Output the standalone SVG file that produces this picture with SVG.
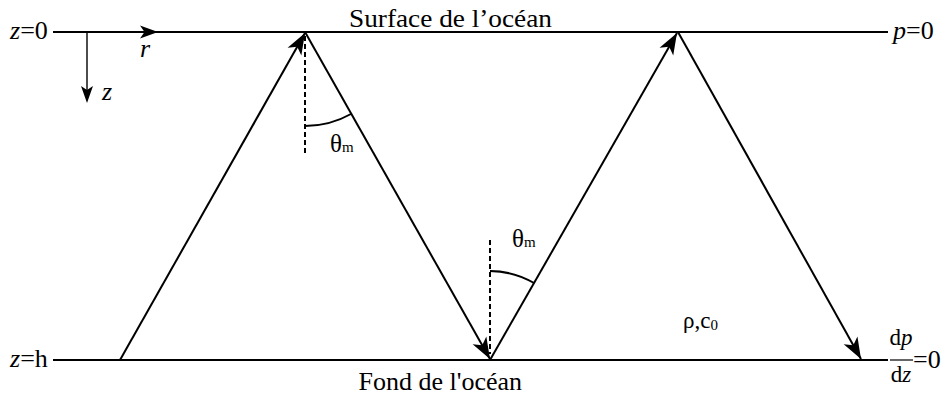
<svg xmlns="http://www.w3.org/2000/svg" width="945" height="396" viewBox="0 0 945 396">
<style>
text{font-family:"Liberation Serif","Times New Roman",serif;fill:#000}
.t{font-size:26px}
.s{font-size:23px}
.g{font-size:25px}
.sub{font-size:15px}
.i{font-style:italic}
.ln{stroke:#000;stroke-width:2.2;fill:none}
.ray{stroke:#000;stroke-width:2;fill:none;marker-end:url(#ah)}
.dash{stroke:#000;stroke-width:2;stroke-dasharray:5 3;fill:none}
.arc{stroke:#000;stroke-width:2;fill:none}
</style>
<defs>
<marker id="ah" markerUnits="userSpaceOnUse" markerWidth="24" markerHeight="18" viewBox="-20 -8 21 16" refX="0" refY="0" orient="auto">
<path d="M0,0 L-19,-7 L-14,0 L-19,7 z" fill="#000"/>
</marker>
</defs>
<g id="boundaries">
<line class="ln" x1="53" y1="32" x2="888" y2="32"/>
<line class="ln" x1="53" y1="360" x2="888" y2="360"/>
</g>
<g id="axes">
<line x1="87" y1="32" x2="87" y2="92" stroke="#000" stroke-width="1.4"/>
<path d="M87,103 L81,86 L87,90 L93,86 z" fill="#000"/>
<path d="M158,32 L140,25.5 L144.5,32 L140,38.5 z" fill="#000"/>
<text class="t i" x="140" y="57">r</text>
<text class="t i" x="102" y="100">z</text>
</g>
<g id="labels">
<text class="t" x="10" y="39"><tspan class="i">z</tspan>=0</text>
<text class="t" x="10" y="367"><tspan class="i">z</tspan>=h</text>
<text class="t" x="893" y="39"><tspan class="i">p</tspan>=0</text>
<text class="t" x="349" y="27" textLength="203" lengthAdjust="spacingAndGlyphs">Surface de l’océan</text>
<text class="t" x="522" y="390" text-anchor="end">Fond de l'océan</text>
<text class="s" x="683" y="328">ρ,c<tspan class="sub" dy="2">0</tspan></text>
</g>
<g id="fraction">
<text class="s" x="901" y="345" text-anchor="middle">d<tspan class="i">p</tspan></text>
<line x1="890" y1="360" x2="913" y2="360" stroke="#000" stroke-width="1.2"/>
<text class="s" x="901" y="382" text-anchor="middle">d<tspan class="i">z</tspan></text>
<text class="t" x="913" y="368">=0</text>
</g>
<g id="connectors">
<path class="ray" d="M120,360 L305,33"/>
<path class="ray" d="M305,32 L490,359"/>
<path class="ray" d="M490,360 L677,33"/>
<path class="ray" d="M678,32 L861,359"/>
</g>
<g id="angles">
<line class="dash" x1="305" y1="36" x2="305" y2="153"/>
<path class="arc" d="M305,126 A94,94 0 0 0 351,114"/>
<text class="g" x="330" y="152">θ<tspan class="sub">m</tspan></text>
<line class="dash" x1="490" y1="240" x2="490" y2="354"/>
<path class="arc" d="M490,271 A89,89 0 0 1 534,283"/>
<text class="g" x="512" y="247">θ<tspan class="sub">m</tspan></text>
</g>
</svg>
